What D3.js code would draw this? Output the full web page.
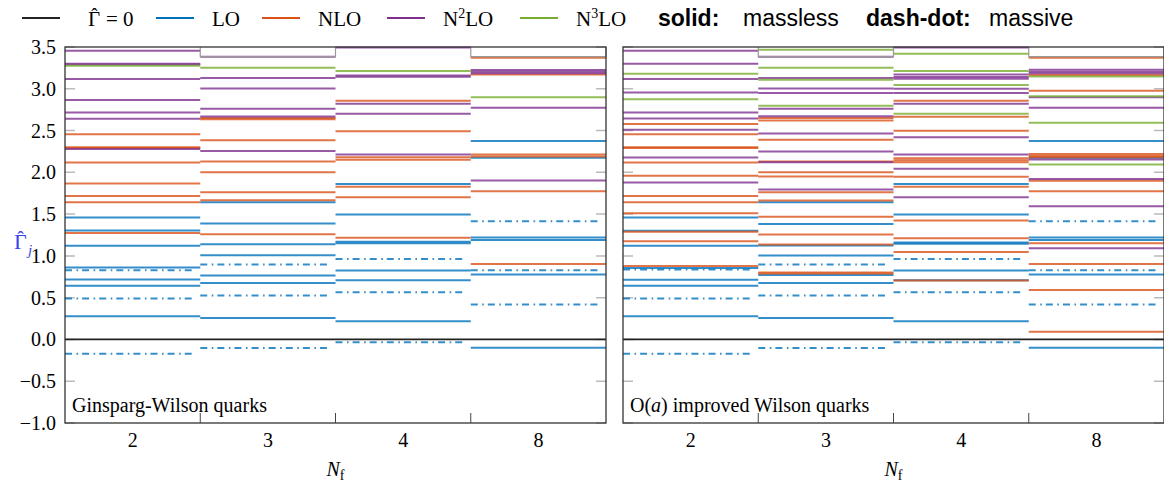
<!DOCTYPE html>
<html>
<head>
<meta charset="utf-8">
<script src="https://cdn.jsdelivr.net/npm/d3@7"></script>
<style>
  body { margin: 0; background: #fff; }
</style>
</head>
<body>
<script>
// columns (N_f) and y ticks
const flavours = ["2", "3", "4", "8"];
const yTicks = [-1.0, -0.5, 0.0, 0.5, 1.0, 1.5, 2.0, 2.5, 3.0, 3.5];

// Ginsparg-Wilson panel: one array per N_f column
const gwLO = [
  [1.459, 1.303, 1.12, 0.86, 0.716, 0.644, 0.278],
  [1.643, 1.387, 1.14, 1.008, 0.764, 0.677, 0.257],
  [1.859, 1.495, 1.17, 1.15, 0.824, 0.709, 0.218],
  [2.374, 2.174, 1.22, 1.19, 0.776, -0.098]
];
const gwLOmassive = [
  [0.829, 0.489, -0.17],
  [0.896, 0.525, -0.102],
  [0.964, 0.565, -0.034],
  [1.416, 0.829, 0.417]
];
const gwNLO = [
  [2.457, 2.30, 2.29, 2.117, 1.866, 1.718, 1.643, 1.275],
  [2.649, 2.635, 2.385, 2.13, 2.002, 1.763, 1.667, 1.26],
  [2.856, 2.493, 2.18, 2.15, 1.826, 1.703, 1.216],
  [3.371, 3.17, 2.213, 2.19, 1.775, 0.904]
];
const gwN2LO = [
  [3.455, 3.30, 3.29, 3.116, 2.865, 2.716, 2.64, 2.278],
  [3.383, 3.128, 3.004, 2.76, 2.668, 2.254],
  [3.495, 3.16, 3.145, 2.82, 2.70, 2.213],
  [3.225, 3.205, 3.185, 2.772, 1.902]
];
const gwN3LO = [[3.275], [3.251], [3.212], [2.90]];

// O(a) improved Wilson panel
const wLO = [
  [1.459, 1.30, 1.12, 0.855, 0.713, 0.644, 0.278],
  [1.643, 1.383, 1.123, 1.004, 0.772, 0.677, 0.257],
  [1.859, 1.495, 1.16, 1.145, 0.824, 0.709, 0.218],
  [2.374, 2.174, 1.22, 1.19, 0.776, -0.098]
];
const wLOmassive = [
  [0.836, 0.489, -0.17],
  [0.896, 0.525, -0.102],
  [0.964, 0.565, -0.034],
  [1.416, 0.829, 0.417]
];
const wNLO = [
  [2.577, 2.457, 2.30, 2.29, 2.117, 1.958, 1.718, 1.643, 1.511, 1.29, 1.176, 0.88],
  [2.65, 2.62, 2.389, 2.13, 2.002, 1.95, 1.763, 1.663, 1.467, 1.255, 1.135, 0.80, 0.79],
  [2.856, 2.665, 2.497, 2.17, 2.145, 2.12, 1.946, 1.826, 1.423, 1.212, 1.048, 0.704],
  [3.371, 3.165, 2.976, 2.218, 2.195, 2.18, 1.90, 1.775, 1.152, 0.904, 0.593, 0.093]
];
const wN2LO = [
  [3.455, 3.299, 3.116, 2.956, 2.716, 2.645, 2.509, 2.177, 1.878],
  [3.383, 3.13, 3.004, 2.948, 2.76, 2.67, 2.465, 2.249, 2.12, 1.794],
  [3.495, 3.17, 3.14, 3.12, 3.0, 2.948, 2.82, 2.421, 2.213, 2.042, 1.703],
  [3.228, 3.205, 3.185, 2.90, 2.772, 2.154, 1.92, 1.595, 1.092]
];
const wN3LO = [
  [3.18, 2.876],
  [3.467, 3.251, 3.108, 2.796],
  [3.419, 3.212, 3.044, 2.70],
  [3.148, 2.91, 2.593, 2.093]
];

// grey cap drawn below the frame in some columns
const capLevel = [null, 3.385, null, 3.385];

const colors = { zero: "#222", LO: "#0072BD", NLO: "#D95319", N2LO: "#7E2F8E", N3LO: "#77AC30" };
const serif = "'Liberation Serif', 'DejaVu Serif', serif";
const sans = "'Liberation Sans', Arial, sans-serif";

const width = 1164;
const height = 482;

const svg = d3
  .create("svg")
  .attr("width", width)
  .attr("height", height)
  .attr("viewBox", [0, 0, width, height])
  .attr("font-family", serif);

const y = d3.scaleLinear().domain([-1, 3.5]).range([423, 47]);

const panels = [
  { x0: 65, x1: 606, label: "Ginsparg-Wilson quarks", tickLabels: true,
    series: [[gwLO, "LO", false], [gwLOmassive, "LO", true], [gwNLO, "NLO", false], [gwN2LO, "N2LO", false], [gwN3LO, "N3LO", false]] },
  { x0: 623, x1: 1164, label: "O(a) improved Wilson quarks", tickLabels: false,
    series: [[wLO, "LO", false], [wLOmassive, "LO", true], [wNLO, "NLO", false], [wN2LO, "N2LO", false], [wN3LO, "N3LO", false]] }
];

// Gamma with a hat, drawn as two pieces so the accent sits right
function gammaHat(sel, x, yBase, size, fill) {
  sel.append("text")
    .attr("x", x).attr("y", yBase)
    .attr("font-size", size)
    .attr("fill", fill)
    .text("\u0393");
  sel.append("text")
    .attr("x", x + size * 0.3).attr("y", yBase - size * 0.22)
    .attr("text-anchor", "middle")
    .attr("font-size", size * 0.9)
    .attr("fill", fill)
    .text("\u02C6");
}

panels.forEach((p) => {
  const x = d3.scaleBand().domain(flavours).range([p.x0, p.x1]).paddingInner(0).paddingOuter(0);
  const g = svg.append("g");

  // light inner ticks on both sides
  g.append("g")
    .attr("stroke", "#bbb")
    .attr("stroke-width", 1.5)
    .selectAll()
    .data(yTicks)
    .join("path")
    .attr("d", (d) => `M${p.x0},${y(d)}h10M${p.x1},${y(d)}h-10`);

  // zero line
  g.append("line")
    .attr("x1", p.x0).attr("x2", p.x1)
    .attr("y1", y(0)).attr("y2", y(0))
    .attr("stroke", colors.zero)
    .attr("stroke-width", 1.8);

  // levels
  p.series.forEach(([data, order, massive]) => {
    const segs = [];
    data.forEach((vals, i) => vals.forEach((v) => segs.push({ col: flavours[i], v })));
    g.append("g")
      .attr("stroke", colors[order])
      .attr("stroke-width", 2)
      .attr("stroke-opacity", 0.8)
      .attr("stroke-dasharray", massive ? "7,4.5,1.6,4" : null)
      .selectAll()
      .data(segs)
      .join("line")
      .attr("x1", (d) => x(d.col))
      .attr("x2", (d) => x(d.col) + x.bandwidth() - (massive ? 6 : 0))
      .attr("y1", (d) => y(d.v))
      .attr("y2", (d) => y(d.v));
  });

  // caps
  g.append("g")
    .attr("fill", "none")
    .attr("stroke", "#999")
    .attr("stroke-width", 1.2)
    .selectAll()
    .data(flavours.filter((f, i) => capLevel[i] != null))
    .join("path")
    .attr("d", (f) => {
      const c = capLevel[flavours.indexOf(f)];
      return `M${x(f)},${y(3.5)}V${y(c)}H${x(f) + x.bandwidth()}V${y(3.5)}`;
    });

  // frame
  g.append("rect")
    .attr("x", p.x0).attr("y", y(3.5))
    .attr("width", p.x1 - p.x0).attr("height", y(-1) - y(3.5))
    .attr("fill", "none")
    .attr("stroke", "#333")
    .attr("stroke-width", 1.3);

  // x ticks at column borders
  g.append("g")
    .attr("stroke", "#444")
    .attr("stroke-width", 1)
    .selectAll()
    .data(flavours.slice(1))
    .join("line")
    .attr("x1", (f) => x(f)).attr("x2", (f) => x(f))
    .attr("y1", y(-1)).attr("y2", y(-1) - 10);

  g.append("g")
    .selectAll()
    .data(flavours)
    .join("text")
    .attr("x", (f) => x(f) + x.bandwidth() / 2)
    .attr("y", 447)
    .attr("text-anchor", "middle")
    .attr("font-size", 20)
    .text((f) => f);

  const nf = g.append("text")
    .attr("x", (p.x0 + p.x1) / 2)
    .attr("y", 476)
    .attr("text-anchor", "middle")
    .attr("font-size", 20);
  nf.append("tspan").attr("font-style", "italic").text("N");
  nf.append("tspan").attr("font-size", 14).attr("dy", 4).text("f");

  // panel label
  const lab = g.append("text")
    .attr("x", p.x0 + 7)
    .attr("y", 412)
    .attr("font-size", 20);
  if (p.tickLabels) {
    lab.text(p.label);
  } else {
    lab.append("tspan").text("O(");
    lab.append("tspan").attr("font-style", "italic").text("a");
    lab.append("tspan").text(") improved Wilson quarks");
  }

  if (p.tickLabels) {
    g.append("g")
      .selectAll()
      .data(yTicks)
      .join("text")
      .attr("x", p.x0 - 9)
      .attr("y", (d) => y(d) + 7)
      .attr("text-anchor", "end")
      .attr("font-size", 20)
      .text((d) => (d < 0 ? "\u2212" : "") + Math.abs(d).toFixed(1));
  }
});

// y label
gammaHat(svg, 14, 249, 22, "#3344ee");
svg.append("text")
  .attr("x", 28).attr("y", 255)
  .attr("fill", "#3344ee")
  .attr("font-size", 15)
  .attr("font-style", "italic")
  .text("j");

// legend
const legend = svg.append("g");
const legendItems = [
  { x: 22, color: colors.zero, label: "= 0", gamma: true },
  { x: 156, color: colors.LO, label: "LO" },
  { x: 262, color: colors.NLO, label: "NLO" },
  { x: 387, color: colors.N2LO, label: "N", sup: "2" },
  { x: 520, color: colors.N3LO, label: "N", sup: "3" }
];
legendItems.forEach((d) => {
  legend.append("line")
    .attr("x1", d.x).attr("x2", d.x + 38)
    .attr("y1", 18).attr("y2", 18)
    .attr("stroke", d.color)
    .attr("stroke-width", 2.2);
  if (d.gamma) {
    gammaHat(legend, 88, 26, 21, "#000");
    legend.append("text")
      .attr("x", 106).attr("y", 26)
      .attr("font-size", 21)
      .text(d.label);
    return;
  }
  const t = legend.append("text")
    .attr("x", d.x + 56)
    .attr("y", 26)
    .attr("font-size", 21);
  t.append("tspan").text(d.label);
  if (d.sup) {
    t.append("tspan").attr("font-size", 14).attr("dy", -8).text(d.sup);
    t.append("tspan").attr("dy", 8).text("LO");
  }
});

[
  { x: 658, text: "solid:", bold: true },
  { x: 743, text: "massless" },
  { x: 866, text: "dash-dot:", bold: true },
  { x: 989, text: "massive" }
].forEach((d) => {
  legend.append("text")
    .attr("x", d.x)
    .attr("y", 26)
    .attr("font-size", 23)
    .attr("font-family", sans)
    .attr("font-weight", d.bold ? "bold" : "normal")
    .text(d.text);
});

d3.select("body").append(() => svg.node());
</script>
</body>
</html>
